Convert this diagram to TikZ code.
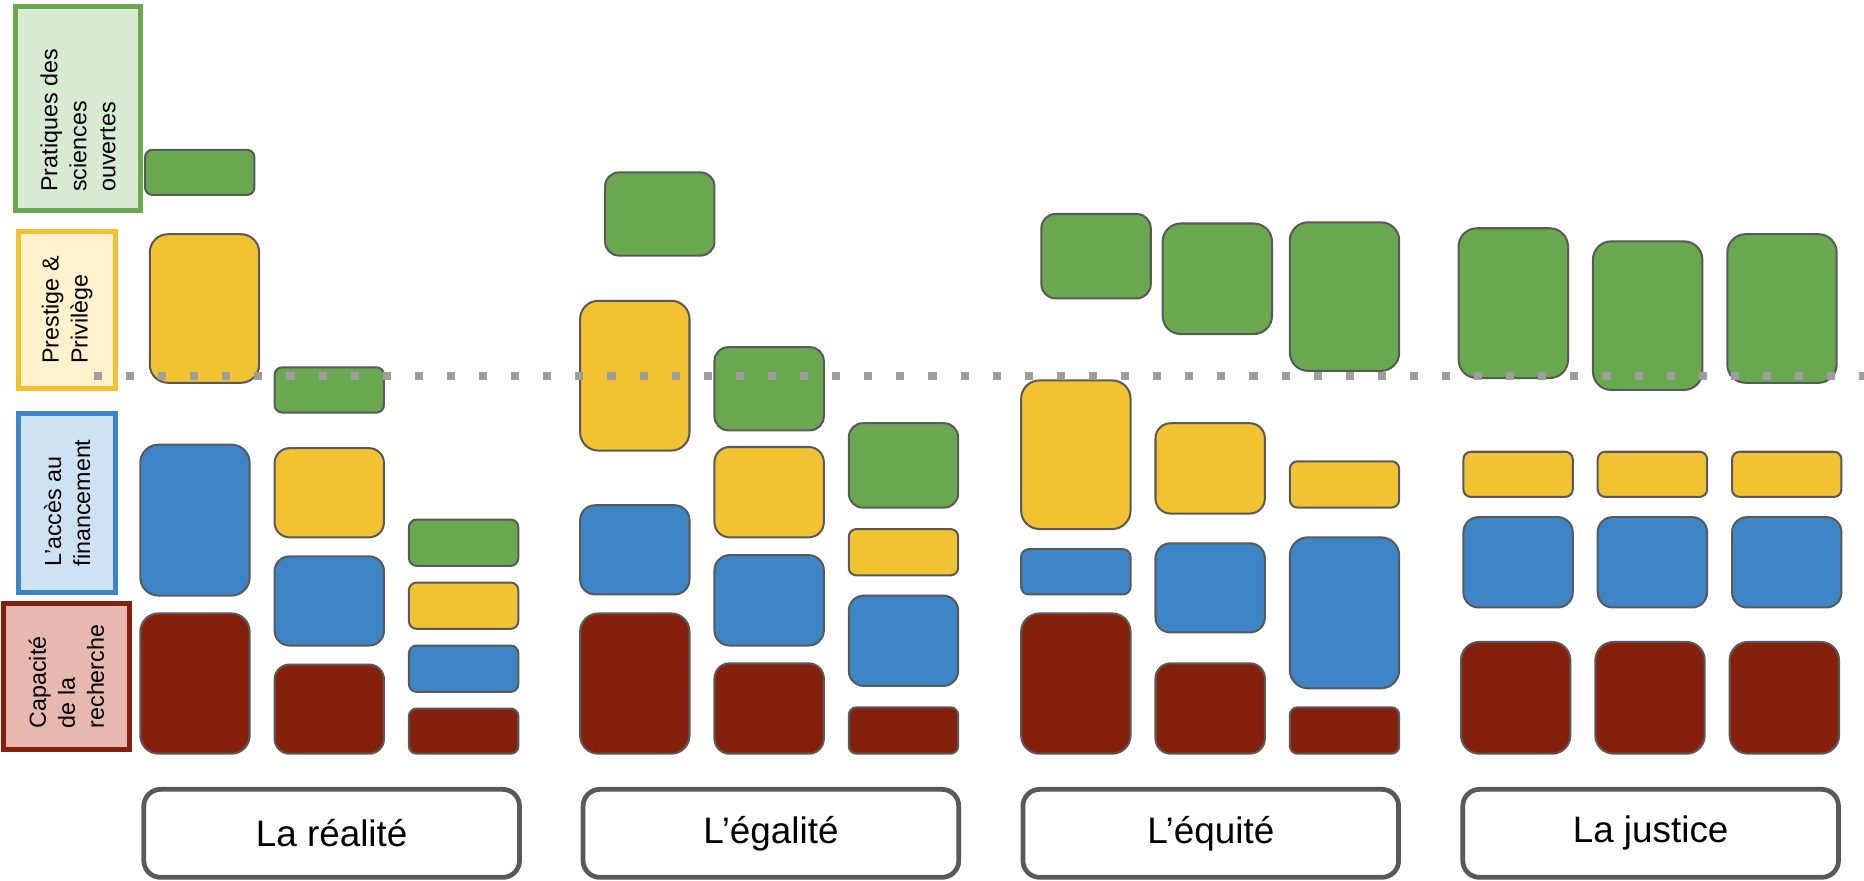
\documentclass[tikz,border=0pt]{standalone}
\usepackage{fontspec}
\setmainfont{Liberation Sans}
\definecolor{vertso}{HTML}{6AA84F}
\definecolor{jaunepp}{HTML}{F1C232}
\definecolor{bleuaf}{HTML}{3D85C6}
\definecolor{rougecr}{HTML}{85200C}
\definecolor{vertclair}{HTML}{D9EAD3}
\definecolor{jauneclair}{HTML}{FFF2CC}
\definecolor{bleuclair}{HTML}{CFE2F3}
\definecolor{rougeclair}{HTML}{E6B8AF}
\definecolor{bordgris}{HTML}{595959}
\definecolor{pointgris}{HTML}{9E9E9E}
% couleur, x gauche, haut, bas
\newcommand{\bloc}[4]{%
  \pgfmathsetmacro\rayon{min(92,#4-#3)/12}%
  \draw[barre,fill=#1,rounded corners=\rayon pt] (#2,#3) rectangle ({#2+92},#4);}
\begin{document}
\begin{tikzpicture}[x=0.5pt,y=-0.5pt,
  barre/.style={draw=bordgris,line width=0.85pt},
  legende/.style={rotate=90,line width=2.1pt,align=left,inner sep=0pt,font=\fontsize{9.8}{12.2}\selectfont},
  etiquette/.style={draw=bordgris,line width=2pt,rounded corners=7pt,minimum width=158pt,minimum height=37pt,font=\fontsize{15.5}{18}\selectfont},
  pointilles/.style={pointgris,line width=3pt,dash pattern=on 3.4pt off 10.1pt}]
\useasboundingbox (0,0) rectangle (1568,741);
% Legende a gauche, quatre scenarios, ligne de seuil
\node[legende,draw=vertso,fill=vertclair,minimum width=85.8pt,minimum height=52.6pt] (pso) at (65.6,91.3) {};
\node[legende] (pso-texte) at ([yshift=-5pt]pso.center) {Pratiques des\\sciences\\ouvertes};
\node[legende,draw=jaunepp,fill=jauneclair,minimum width=66pt,minimum height=40.8pt] (pp) at (56.4,260.8) {Prestige \&\\Privilège};
\node[legende,draw=bleuaf,fill=bleuclair,minimum width=75.3pt,minimum height=40.8pt] (af) at (56.4,423.1) {L’accès au\\financement};
\node[legende,draw=rougecr,fill=rougeclair,minimum width=61.4pt,minimum height=53pt] (cr) at (55.9,569.1) {Capacité\\de la\\recherche};
% La realite
\bloc{vertso}{122}{126}{164}
\bloc{jaunepp}{126}{197}{322}
\bloc{bleuaf}{118}{374}{501}
\bloc{rougecr}{118}{516}{634}
\bloc{vertso}{231}{309}{347}
\bloc{jaunepp}{231}{377}{452}
\bloc{bleuaf}{231}{468}{543}
\bloc{rougecr}{231}{559}{634}
\bloc{vertso}{344}{437}{476}
\bloc{jaunepp}{344}{490}{529}
\bloc{bleuaf}{344}{543}{582}
\bloc{rougecr}{344}{596}{634}
% L'egalite
\bloc{vertso}{509}{145}{215}
\bloc{jaunepp}{488}{253}{379}
\bloc{bleuaf}{488}{425}{500}
\bloc{rougecr}{488}{516}{634}
\bloc{vertso}{601}{292}{362}
\bloc{jaunepp}{601}{376}{452}
\bloc{bleuaf}{601}{467}{543}
\bloc{rougecr}{601}{558}{634}
\bloc{vertso}{714}{356}{427}
\bloc{jaunepp}{714}{445}{484}
\bloc{bleuaf}{714}{501}{577}
\bloc{rougecr}{714}{595}{634}
% L'equite
\bloc{vertso}{876}{180}{251}
\bloc{jaunepp}{859}{320}{445}
\bloc{bleuaf}{859}{462}{500}
\bloc{rougecr}{859}{516}{634}
\bloc{vertso}{978}{188}{281}
\bloc{jaunepp}{972}{356}{432}
\bloc{bleuaf}{972}{457}{532}
\bloc{rougecr}{972}{558}{634}
\bloc{vertso}{1085}{187}{312}
\bloc{jaunepp}{1085}{388}{427}
\bloc{bleuaf}{1085}{452}{579}
\bloc{rougecr}{1085}{595}{634}
% La justice
\bloc{vertso}{1227}{192}{318}
\bloc{jaunepp}{1231}{380}{418}
\bloc{bleuaf}{1231}{435}{511}
\bloc{rougecr}{1229}{540}{634}
\bloc{vertso}{1340}{203}{328}
\bloc{jaunepp}{1344}{380}{418}
\bloc{bleuaf}{1344}{435}{511}
\bloc{rougecr}{1342}{540}{634}
\bloc{vertso}{1453}{197}{322}
\bloc{jaunepp}{1457}{380}{418}
\bloc{bleuaf}{1457}{435}{511}
\bloc{rougecr}{1455}{540}{634}
\draw[pointilles] (79,316.3) -- (1568,316.3);
\node[etiquette] (realite) at (279,701) {La réalité};
\node[etiquette] (egalite) at (648.5,701) {L’égalité};
\node[etiquette] (equite) at (1018.5,701) {L’équité};
\node[etiquette] (justice) at (1388.5,701) {La justice};
\end{tikzpicture}
\end{document}
